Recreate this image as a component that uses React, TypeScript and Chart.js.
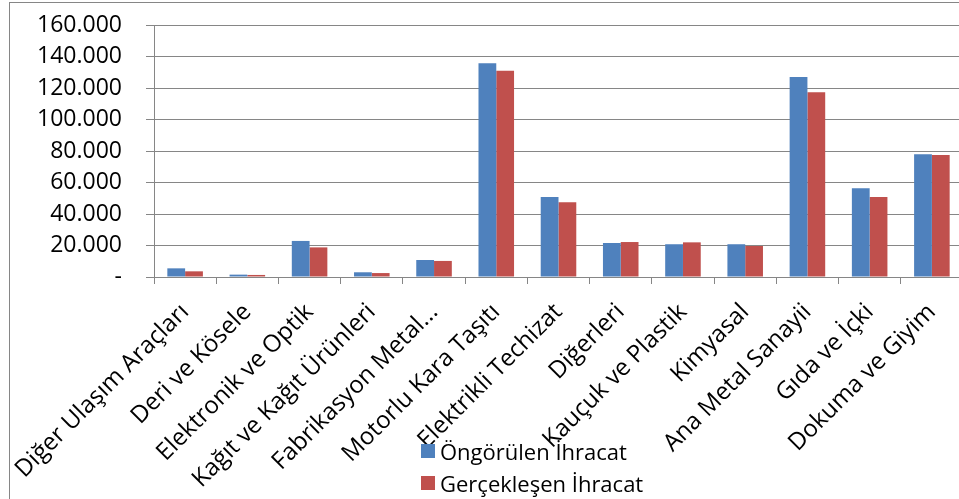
import React, { useEffect, useRef } from "react";
import { Chart, registerables } from "chart.js";
Chart.register(...registerables);

const categories = [
  "Diğer Ulaşım Araçları",
  "Deri ve Kösele",
  "Elektronik ve Optik",
  "Kağıt ve Kağıt Ürünleri",
  "Fabrikasyon Metal...",
  "Motorlu Kara Taşıtı",
  "Elektrikli Techizat",
  "Diğerleri",
  "Kauçuk ve Plastik",
  "Kimyasal",
  "Ana Metal Sanayii",
  "Gıda ve İçki",
  "Dokuma ve Giyim",
];
const ongorulen = [5500, 1500, 22900, 3000, 10800, 135700, 50800, 21600, 20800, 20800, 127000, 56300, 77900];
const gerceklesen = [3600, 1300, 18800, 2500, 10200, 131000, 47400, 22200, 22000, 19700, 117300, 50800, 77500];
const seriesNames = ["Öngörülen İhracat", "Gerçekleşen İhracat"];
const seriesColors = ["#4F81BD", "#C0504D"];
const yMin = 0;
const yMax = 160000;
const yStep = 20000;

const FONT = "'Open Sans', 'DejaVu Sans', sans-serif";
const GRID = "#868686";

function fmt(v: number): string {
  if (v === 0) return "-";
  return String(Math.round(v)).replace(/\B(?=(\d{3})+(?!\d))/g, ".");
}

export default function App() {
  const ref = useRef<HTMLCanvasElement | null>(null);
  useEffect(() => {
    if (!ref.current) return;
    const chart = new Chart(ref.current, {
      type: "bar",
      data: {
        labels: categories,
        datasets: [ongorulen, gerceklesen].map((d, i) => ({
          label: seriesNames[i],
          data: d,
          backgroundColor: seriesColors[i],
          borderWidth: 0,
          categoryPercentage: 2 / 3.5,
          barPercentage: 1,
        })),
      },
      options: {
        responsive: false,
        animation: false,
        layout: { padding: { top: 25, left: 0, right: 12, bottom: 0 } },
        plugins: { legend: { display: false }, tooltip: { enabled: false } },
        scales: {
          x: {
            grid: { drawOnChartArea: false, drawTicks: true, tickLength: 7, color: GRID, offset: true },
            border: { color: GRID, width: 1 },
            ticks: {
              autoSkip: false,
              maxRotation: 45,
              minRotation: 45,
              color: "#000",
              font: { family: FONT, size: 24 },
              padding: 14,
            },
            afterFit: (s: any) => {
              s.paddingLeft = 0;
              s.paddingRight = 0;
              s.paddingTop = 0;
              s.paddingBottom = 0;
              s.height = 499 - 277;
            },
          },
          y: {
            min: yMin,
            max: yMax,
            ticks: {
              stepSize: yStep,
              autoSkip: false,
              callback: (v: any) => fmt(Number(v)),
              color: "#000",
              font: { family: FONT, size: 23 },
              padding: 24,
            },
            grid: { color: GRID, tickLength: 8, lineWidth: 1 },
            border: { color: GRID, width: 1 },
            afterFit: (s: any) => {
              s.paddingTop = 0;
              s.paddingBottom = 0;
              s.width = 154;
            },
          },
        },
      },
    });
    return () => chart.destroy();
  }, []);

  return (
    <div style={{ position: "fixed", left: 0, top: 0, width: 959, height: 499, overflow: "hidden", background: "#fff" }}>
      <canvas ref={ref} width={975} height={499} style={{ position: "absolute", left: 0, top: 0, width: 975, height: 499 }} />
      <div style={{ position: "absolute", left: 9, top: 2, width: 990, height: 540, border: `1px solid ${GRID}`, pointerEvents: "none" }} />
      <div style={{ position: "absolute", left: 421, top: 435, fontFamily: FONT, fontSize: 22, color: "#000", lineHeight: "32px" }}>
        {seriesNames.map((n, i) => (
          <div key={n} style={{ display: "flex", alignItems: "center", height: 32 }}>
            <span style={{ display: "inline-block", width: 14, height: 14, background: seriesColors[i], marginRight: 5 }} />
            <span>{n}</span>
          </div>
        ))}
      </div>
    </div>
  );
}
